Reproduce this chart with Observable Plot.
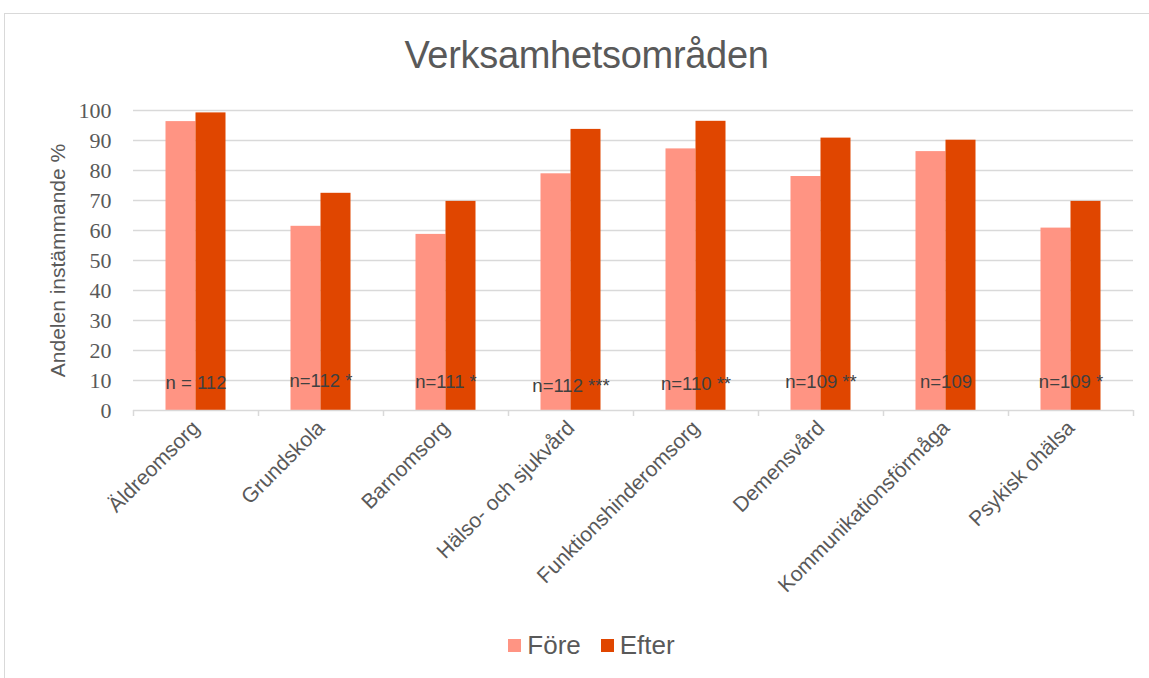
<!DOCTYPE html>
<html>
<head>
<meta charset="utf-8">
<script src="https://cdn.jsdelivr.net/npm/d3@7"></script>
<script src="https://cdn.jsdelivr.net/npm/@observablehq/plot@0.6"></script>
<style>
  html, body { margin: 0; padding: 0; background: #fff; }
  #wrap { position: relative; width: 1149px; height: 678px; overflow: hidden; font-family: "Liberation Sans", Arial, sans-serif; }
  #frame { position: absolute; left: 4px; top: 13px; width: 1200px; height: 700px; border: 1px solid #d9d9d9; box-sizing: border-box; }
  #title { position: absolute; left: 12px; top: 36px; width: 1149px; text-align: center; font-size: 38px; line-height: 38px; color: #595959; letter-spacing: -0.3px; }
  #chart { position: absolute; left: 0; top: 90px; }
  #legend { position: absolute; left: 17px; top: 632px; width: 1149px; display: flex; justify-content: center; align-items: center; font-size: 26px; line-height: 26px; color: #595959; }
  #legend .item { display: flex; align-items: center; margin: 0 10px; }
  #legend .sw { width: 13px; height: 13px; margin-right: 6px; }
  svg .yt text { font-family: "Liberation Serif", "Times New Roman", serif !important; font-size: 22px !important; fill: #595959; }
  svg .xt text { font-family: "Liberation Sans", Arial, sans-serif !important; font-size: 21px !important; fill: #595959; }
</style>
</head>
<body>
<div id="wrap">
  <div id="frame"></div>
  <div id="title">Verksamhetsområden</div>
  <div id="chart"></div>
  <div id="legend"></div>
</div>
<script>
const categories = ["Äldreomsorg", "Grundskola", "Barnomsorg", "Hälso- och sjukvård", "Funktionshinderomsorg", "Demensvård", "Kommunikationsförmåga", "Psykisk ohälsa"];
const fore = [96.3, 61.4, 58.7, 78.9, 87.2, 78.0, 86.3, 60.8];
const efter = [99.2, 72.4, 69.7, 93.7, 96.4, 90.8, 90.1, 69.7];
const nLabels = ["n = 112", "n=112 *", "n=111 *", "n=112 ***", "n=110 **", "n=109 **", "n=109", "n=109 *"];
const nLabelY = [9, 9.7, 9.5, 8.2, 8.7, 9.5, 9.5, 9.5];
const yTicks = [0, 10, 20, 30, 40, 50, 60, 70, 80, 90, 100];
const seriesNames = ["Före", "Efter"];
const seriesColors = ["#FF9483", "#E04600"];

const rows = categories.map((c, i) => ({cat: c, fore: fore[i], efter: efter[i], label: nLabels[i], ly: nLabelY[i]}));

const chart = Plot.plot({
  width: 1149,
  height: 520,
  marginTop: 20,
  marginBottom: 200,
  marginLeft: 133,
  marginRight: 16,
  style: {background: "transparent", fontFamily: "Liberation Sans, Arial, sans-serif"},
  x: {domain: categories, padding: 0},
  y: {domain: [0, 100]},
  marks: [
    Plot.ruleY(yTicks.filter(d => d > 0), {stroke: "#d9d9d9", strokeWidth: 1.5}),
    Plot.barY(rows, {x: "cat", y: "fore", fill: seriesColors[0], insetLeft: 32.5, insetRight: 62.5}),
    Plot.barY(rows, {x: "cat", y: "efter", fill: seriesColors[1], insetLeft: 62.5, insetRight: 32.5}),
    Plot.ruleY([0], {stroke: "#d9d9d9", strokeWidth: 1.5}),
    Plot.ruleX(categories, {x: d => d, dx: -62.5, y1: 0, y2: -2, stroke: "#d9d9d9", strokeWidth: 1.5}),
    Plot.ruleX(categories.slice(-1), {x: d => d, dx: 62.5, y1: 0, y2: -2, stroke: "#d9d9d9", strokeWidth: 1.5}),
    Plot.text(rows, {x: "cat", y: "ly", text: "label", fontSize: 18.5, fill: "#404040", fontFamily: "Liberation Sans, Arial, sans-serif"}),
    Plot.axisY({ticks: yTicks, tickSize: 0, tickPadding: 22, label: null, className: "yt", fontSize: 22, fontFamily: "Liberation Serif, Times New Roman, serif", fill: "#595959"}),
    Plot.axisX({tickSize: 0, tickPadding: 14, tickRotate: -45, label: null, className: "xt", fontSize: 21, fill: "#595959"}),
    Plot.text([0], {frameAnchor: "left", textAnchor: "middle", text: () => "Andelen instämmande %", rotate: -90, dx: -75, fontSize: 21, fill: "#595959", fontFamily: "Liberation Sans, Arial, sans-serif"})
  ]
});
document.getElementById("chart").appendChild(chart);

const legend = document.getElementById("legend");
seriesNames.forEach((name, i) => {
  const item = document.createElement("div");
  item.className = "item";
  const sw = document.createElement("div");
  sw.className = "sw";
  sw.style.background = seriesColors[i];
  const t = document.createElement("span");
  t.textContent = name;
  item.appendChild(sw);
  item.appendChild(t);
  legend.appendChild(item);
});
</script>
</body>
</html>
